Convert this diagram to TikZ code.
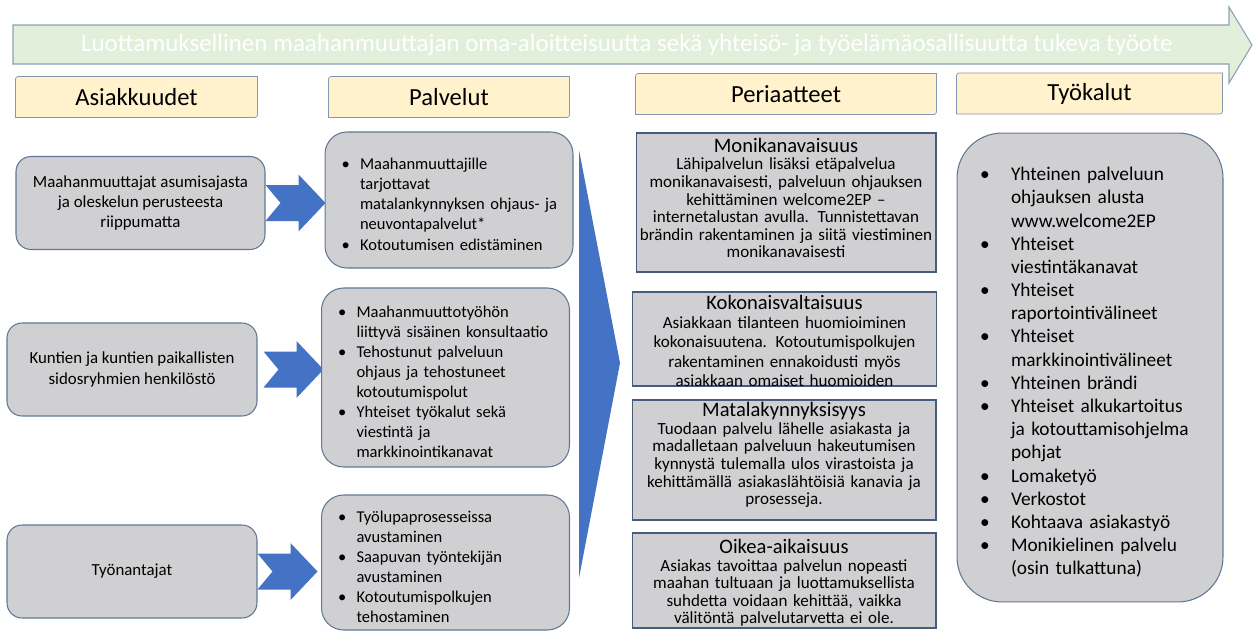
\documentclass[tikz,border=0pt]{standalone}
\usepackage{fontspec}
\setmainfont{Carlito}
\usetikzlibrary{backgrounds}
\definecolor{leadfill}{RGB}{226,239,218}
\definecolor{leadline}{RGB}{140,160,180}
\definecolor{hdrfill}{RGB}{255,242,204}
\definecolor{hdrline}{RGB}{132,151,176}
\definecolor{boxfill}{RGB}{208,207,209}
\definecolor{boxline}{RGB}{96,120,150}
\definecolor{ruleline}{RGB}{70,92,125}
\definecolor{arrowblue}{RGB}{68,114,196}
\newlength{\bulind}
\newlength{\bulpad}
\newcommand{\bitem}{\par\hangindent=\bulind\hangafter=1\noindent\makebox[\bulind][l]{\hspace{\bulpad}\textbullet}}

\begin{document}
\begin{tikzpicture}[x=0.02cm,y=-0.02cm,line width=0.6pt,
  hdr/.style={minimum width=#1,minimum height=0.8cm,inner sep=0pt,font=\fontsize{14}{16}\selectfont},
  hdrframe/.style={fill=hdrfill,draw=hdrline},
  who/.style={draw=boxline,fill=boxfill,rounded corners=0.3cm,minimum width=#1,minimum height=1.86cm,
    align=center,font=\fontsize{9.6}{11.4}\selectfont},
  svc/.style={draw=boxline,fill=boxfill,rounded corners=0.44cm,text width=4.56cm,inner xsep=0.2cm,
    align=left,font=\fontsize{9.4}{11.4}\selectfont,
    execute at begin node={\setlength{\bulind}{0.5cm}\setlength{\bulpad}{0.13cm}}},
  rule/.style={draw=ruleline,fill=boxfill,minimum width=#1,inner sep=0pt},
  ruletext/.style={text width=6.04cm,align=center,inner sep=0pt,font=\fontsize{9.7}{10}\selectfont,
    execute at begin node={\hyphenpenalty=10000}},
  tools/.style={draw=boxline,fill=boxfill,rounded corners=0.9cm,text width=4.4cm,inner xsep=0.46cm,
    minimum height=9.38cm,align=left,font=\fontsize{11}{13.2}\selectfont,
    execute at begin node={\setlength{\bulind}{0.62cm}\setlength{\bulpad}{0pt}}},
  chev/.pic={\fill[arrowblue] (0,-18) -- (33,-18) -- (33,-28.5) -- (60,0) -- (33,28.5) -- (33,18) -- (0,18) -- (15,0) -- cycle;}]
\useasboundingbox (0,0) rectangle (1254,632);

\filldraw[fill=leadfill,draw=leadline] (13,25) -- (1229,25) -- (1229,7) -- (1252,45) -- (1229,83) -- (1229,64) -- (13,64) -- cycle;
\node[text=white,font=\fontsize{14.2}{16}\selectfont] (lead) at (627,44.5)
  {Luottamuksellinen maahanmuuttajan oma-aloitteisuutta sekä yhteisö- ja työelämäosallisuutta tukeva työote};

\node[hdr=4.82cm] (hA) at (136.5,97) {Asiakkuudet};
\node[hdr=4.8cm] (hP) at (449,97) {Palvelut};
\node[hdr=6cm] (hR) at (786,94) {Periaatteet};
\node[hdr=5.3cm] (hT) at (1089.5,93.5) {Työkalut};
\begin{scope}[on background layer]
\foreach \h in {hA,hP,hR,hT}
  \filldraw[hdrframe] (\h.south west) -- ([yshift=-0.12cm]\h.north west) .. controls (\h.north west) .. ([xshift=0.12cm]\h.north west)
    -- (\h.north east) -- ([yshift=0.12cm]\h.south east) .. controls (\h.south east) .. ([xshift=-0.12cm]\h.south east) -- cycle;
\end{scope}

\node[who=4.98cm] (a1) at (140.5,203) {Maahanmuuttajat asumisajasta\\ ja oleskelun perusteesta\\ riippumatta};
\node[who=5cm] (a2) at (132,369.5) {Kuntien ja kuntien paikallisten\\ sidosryhmien henkilöstö};
\node[who=5cm] (a3) at (132,571.5) {Työnantajat};

\pic at (a1.east) {chev};
\pic at ([xshift=0.12cm]a2.east) {chev};
\pic at (a3.east) {chev};

\node[svc,minimum height=2.72cm] (p1) at (449,200) {%
  \bitem Maahanmuuttajille\newline tarjottavat\newline matalankynnyksen ohjaus- ja\newline neuvontapalvelut*
  \bitem Kotoutumisen edistäminen\par};
\node[svc,minimum height=3.58cm] (p2) at (445.5,377.5) {%
  \bitem Maahanmuuttotyöhön\newline liittyvä sisäinen konsultaatio
  \bitem Tehostunut palveluun\newline ohjaus ja tehostuneet\newline kotoutumispolut
  \bitem Yhteiset työkalut sekä\newline viestintä ja\newline markkinointikanavat\par};
\node[svc,minimum height=2.7cm] (p3) at (445.5,562.5) {%
  \bitem Työlupaprosesseissa\newline avustaminen
  \bitem Saapuvan työntekijän\newline avustaminen
  \bitem Kotoutumispolkujen\newline tehostaminen\par};

\fill[arrowblue] (579,150) -- (620,363) -- (579,578) -- cycle;

\node[rule=6cm,minimum height=2.78cm] (r1) at (786,202.5) {};
\node[rule=6.08cm,minimum height=1.88cm] (r2) at (784.5,339) {};
\node[rule=6.08cm,minimum height=2.4cm] (r3) at (784,460) {};
\node[rule=6.08cm,minimum height=1.9cm] (r4) at (784,580.5) {};

\node[ruletext] (r1t) at (786,198) {{\fontsize{11.7}{10}\selectfont Monikanavaisuus}\\
  Lähipalvelun lisäksi etäpalvelua\\ monikanavaisesti, palveluun ohjauksen\\ kehittäminen welcome2EP –\\
  internetalustan avulla. Tunnistettavan\\ brändin rakentaminen ja siitä viestiminen\\ monikanavaisesti};
\begin{scope}
\clip (r2.south west) rectangle (r2.north east);
\node[ruletext,anchor=north,font=\fontsize{9.7}{11}\selectfont] (r2t) at ([yshift=-0.06cm]r2.north) {{\fontsize{11.7}{10}\selectfont Kokonaisvaltaisuus}\\
  Asiakkaan tilanteen huomioiminen\\ kokonaisuutena. Kotoutumispolkujen\\ rakentaminen ennakoidusti myös\\
  asiakkaan omaiset huomioiden};
\end{scope}
\node[ruletext] (r3t) at (784,455) {{\fontsize{11.7}{10}\selectfont Matalakynnyksisyys}\\
  Tuodaan palvelu lähelle asiakasta ja\\ madalletaan palveluun hakeutumisen\\ kynnystä tulemalla ulos virastoista ja\\
  kehittämällä asiakaslähtöisiä kanavia ja\\ prosesseja.};
\node[ruletext] (r4t) at (784,583) {{\fontsize{11.7}{10}\selectfont Oikea-aikaisuus}\\
  Asiakas tavoittaa palvelun nopeasti\\ maahan tultuaan ja luottamuksellista\\ suhdetta voidaan kehittää, vaikka\\
  välitöntä palvelutarvetta ei ole.};

\node[tools] (tk) at (1090,367.5) {%
  \bitem Yhteinen palveluun\newline ohjauksen alusta\newline www.welcome2EP
  \bitem Yhteiset\newline viestintäkanavat
  \bitem Yhteiset\newline raportointivälineet
  \bitem Yhteiset\newline markkinointivälineet
  \bitem Yhteinen brändi
  \bitem Yhteiset alkukartoitus\newline ja kotouttamisohjelma\newline pohjat
  \bitem Lomaketyö
  \bitem Verkostot
  \bitem Kohtaava asiakastyö
  \bitem Monikielinen palvelu\newline (osin tulkattuna)\par};
\end{tikzpicture}
\end{document}
